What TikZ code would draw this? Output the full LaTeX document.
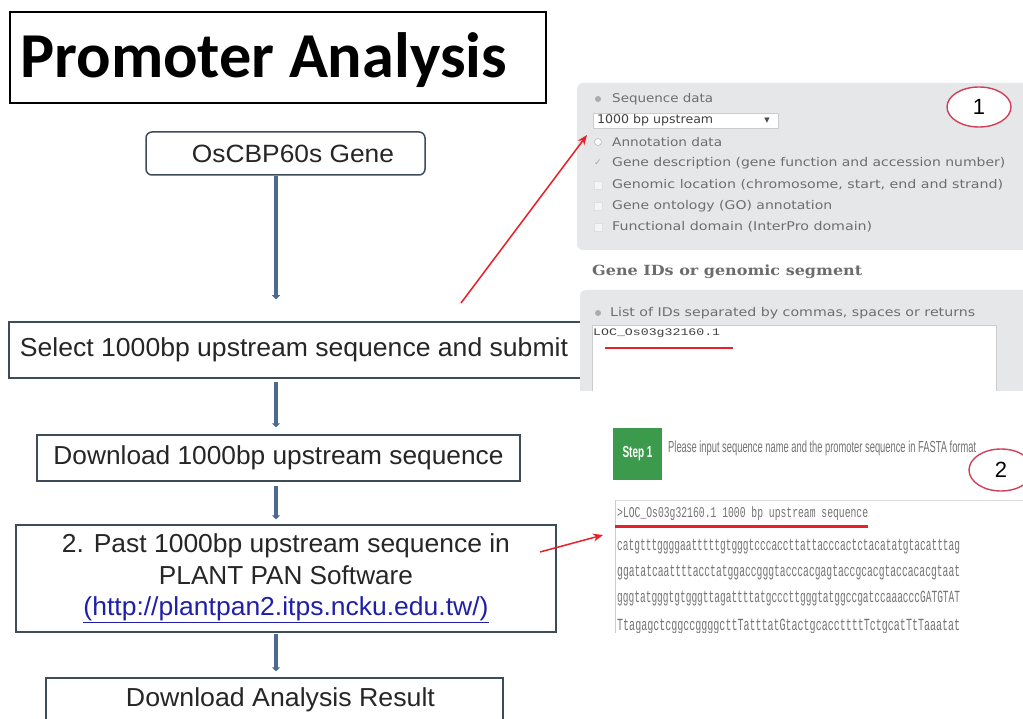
\documentclass[tikz,border=0pt]{standalone}
\usepackage{graphicx}
\usepackage{fontspec}
\setmainfont{Liberation Sans}
\newfontfamily\titlefont{Carlito}
\newfontfamily\uifont{DejaVu Sans}
\newfontfamily\uiserif{DejaVu Serif}
\newfontfamily\seqfont{Liberation Mono}
\usetikzlibrary{arrows.meta,calc,shapes.geometric}
\newcommand{\fw}[2]{\resizebox{#1}{\height}{#2}}
\definecolor{boxc}{HTML}{3E4C59}
\definecolor{connc}{HTML}{4A6A94}
\definecolor{redc}{HTML}{E8202A}
\definecolor{panelc}{HTML}{E5E7E9}
\definecolor{uigray}{HTML}{6E6E6E}
\definecolor{linkc}{HTML}{1F1FA8}
\definecolor{stepgreen}{HTML}{3C9A4C}
\definecolor{ellred}{HTML}{D0405A}
\begin{document}
\begin{tikzpicture}[x=1pt,y=-1pt,
  flowbox/.style={draw=boxc, line width=1.5pt, fill=white, inner sep=0pt, text=black!85, font=\fontsize{26}{31.5}\selectfont},
  connector/.style={draw=connc, line width=3.5pt, -{Triangle[length=4pt,width=8pt]}},
  redarrow/.style={draw=redc, line width=1.5pt, -{Stealth[length=10pt,width=8pt]}},
  uitext/.style={inner sep=0pt, anchor=west, text=uigray, font=\uifont\fontsize{12}{14}\selectfont},
  radio/.style={draw=gray!55, fill=white, line width=0.6pt},
  chkbox/.style={draw=gray!25, fill=gray!8, line width=0.6pt},
  seqtext/.style={inner sep=0pt, anchor=west, text=black!55, font=\seqfont\fontsize{17}{19}\selectfont},
  numell/.style={draw=ellred, line width=1.4pt, ellipse, inner sep=0pt, font=\fontsize{22}{24}\selectfont}
]
\useasboundingbox (0,0) rectangle (1023,719);
\fill[white] (0,0) rectangle (1023,719);

% ---------- title ----------
\node[draw=black, line width=2pt, minimum width=536pt, minimum height=91pt, inner sep=0pt] (titlebox) at (278,57.5) {};
\node[anchor=base west, inner sep=0pt] (title) at (20,78) {\fw{487pt}{\titlefont\bfseries\fontsize{64}{70}\selectfont Promoter Analysis}};

% ---------- flowchart ----------
\coordinate (cx) at (276,0);
\node[flowbox, rounded corners=6pt, minimum width=279pt, minimum height=43pt, font=\fontsize{25}{30}\selectfont] (gene) at (285.5,153.5) {\hspace*{15pt}\fw{202pt}{OsCBP60s Gene}};
\node[flowbox, minimum width=580pt, minimum height=56pt] (select) at (299,350) {\fw{548pt}{Select 1000bp upstream sequence and submit}\hspace*{10pt}};
\node[flowbox, minimum width=483pt, minimum height=46pt] (download) at (278.5,458) {\fw{450pt}{Download 1000bp upstream sequence}};
\node[flowbox, minimum width=540pt, minimum height=107pt, align=center] (past) at (286,578.5)
  {\fw{448pt}{2. Past 1000bp upstream sequence in}\\
   \fw{254pt}{PLANT PAN Software}\\
   {\color{linkc}\underline{\fw{405pt}{(http://plantpan2.itps.ncku.edu.tw/)}}}};
\node[flowbox, minimum width=457pt, minimum height=50pt] (result) at (274.5,703) {};
\node[inner sep=0pt, text=black!85, font=\fontsize{26}{31.5}\selectfont] (resulttxt) at (280.5,700) {\fw{309pt}{Download Analysis Result}};

\draw[connector, shorten >=22pt] (gene.south -| cx) -- (select.north -| cx);
\draw[connector, shorten <=3pt, shorten >=7pt] (select.south -| cx) -- (download.north -| cx);
\draw[connector, shorten <=4pt, shorten >=5pt] (download.south -| cx) -- (past.north -| cx);
\draw[connector, shorten <=1pt, shorten >=6pt] (past.south -| cx) -- (result.north -| cx);

% ---------- screenshot 1 ----------
\begin{scope}
\clip (560,60) rectangle (1023,390);
\fill[panelc, rounded corners=6pt] (577,83) rectangle (1040,250);
\fill[gray!65] (598,99) circle (3pt);
\node[uitext] (seqdata) at (612,99) {\fw{101pt}{Sequence data}};
\node[draw=gray!40, fill=white, line width=0.6pt, minimum width=185pt, minimum height=15pt, inner sep=0pt] (dropdown) at (685.5,120.5) {};
\node[uitext, text=black!75] (ddtext) at (597,120.5) {\fw{116pt}{1000 bp upstream}};
\node[inner sep=0pt, text=black!70, font=\uifont\fontsize{7}{8}\selectfont] (ddarrow) at (767,121) {▼};
\draw[radio] (598,142) circle (3.5pt);
\node[uitext] (annot) at (612,142) {\fw{110pt}{Annotation data}};
\node[inner sep=0pt, text=gray!70, font=\uifont\fontsize{9}{10}\selectfont] (chk) at (598,163) {✓};
\node[uitext] (genedesc) at (612,163) {\fw{393pt}{Gene description (gene function and accession number)}};
\draw[chkbox] (594,181) rectangle (602,189);
\node[uitext] (genloc) at (612,185) {\fw{391pt}{Genomic location (chromosome, start, end and strand)}};
\draw[chkbox] (594,202) rectangle (602,210);
\node[uitext] (geneont) at (612,206) {\fw{220pt}{Gene ontology (GO) annotation}};
\draw[chkbox] (594,223) rectangle (602,231);
\node[uitext] (funcdom) at (612,227) {\fw{260pt}{Functional domain (InterPro domain)}};
\node[numell, fill=white, minimum width=64pt, minimum height=40pt] (one) at (979,107) {1};
% gene IDs
\node[inner sep=0pt, anchor=west, text=gray!85!black, font=\uiserif\bfseries\fontsize{14}{16}\selectfont] (geneids) at (592,272) {\fw{270pt}{Gene IDs or genomic segment}};
\fill[panelc, rounded corners=6pt] (580,290) rectangle (1040,420);
\fill[gray!65] (598,313) circle (3pt);
\node[uitext] (listids) at (610,313) {\fw{365pt}{List of IDs separated by commas, spaces or returns}};
\draw[draw=gray!40, fill=white, line width=0.6pt] (592,325) rectangle (996,420);
\node[inner sep=0pt, anchor=west, text=black!75, font=\seqfont\fontsize{10}{12}\selectfont] (locid) at (593,333) {\fw{127pt}{LOC\_Os03g32160.1}};
\draw[redc, line width=1.8pt] (605,348) -- (733,348);
\end{scope}

% ---------- screenshot 2 ----------
\begin{scope}
\clip (590,415) rectangle (1023,632);
\node[fill=stepgreen, minimum width=49pt, minimum height=52pt, inner sep=0pt, text=white, font=\bfseries\fontsize{16}{18}\selectfont] (step) at (637.5,454) {\fw{30pt}{Step 1}};
\node[uitext, text=black!55, font=\fontsize{16}{18}\selectfont] (please) at (668,448) {\fw{308pt}{Please input sequence name and the promoter sequence in FASTA format}};
\node[numell, minimum width=64pt, minimum height=42pt] (two) at (1001,470) {2};
\draw[gray!30, line width=0.6pt] (615,500) -- (1023,500);
\draw[gray!40, line width=0.6pt] (615,500) -- (615,640);
\node[seqtext, font=\seqfont\fontsize{15}{17}\selectfont] (header) at (617,514) {\fw{251pt}{>LOC\_Os03g32160.1 1000 bp upstream sequence}};
\draw[redc, line width=3pt] (615,526) -- (868,526);
\node[seqtext] (s1) at (617,547) {\fw{343pt}{catgtttggggaatttttgtgggtcccaccttattacccactctacatatgtacatttag}};
\node[seqtext] (s2) at (617,573) {\fw{343pt}{ggatatcaattttacctatggaccgggtacccacgagtaccgcacgtaccacacgtaat}};
\node[seqtext] (s3) at (617,599) {\fw{343pt}{gggtatgggtgtgggttagattttatgcccttgggtatggccgatccaaacccGATGTAT}};
\node[seqtext] (s4) at (617,627) {\fw{343pt}{TtagagctcggccggggcttTatttatGtactgcaccttttTctgcatTtTaaatat}};
\end{scope}

% ---------- red pointers ----------
\coordinate (r1t) at (461,303);
\coordinate (r1h) at (587,135);
\coordinate (r2t) at (540,552);
\coordinate (r2h) at (603,535);
\draw[redarrow] (r1t) -- (r1h);
\draw[redarrow] (r2t) -- (r2h);
\end{tikzpicture}
\end{document}
